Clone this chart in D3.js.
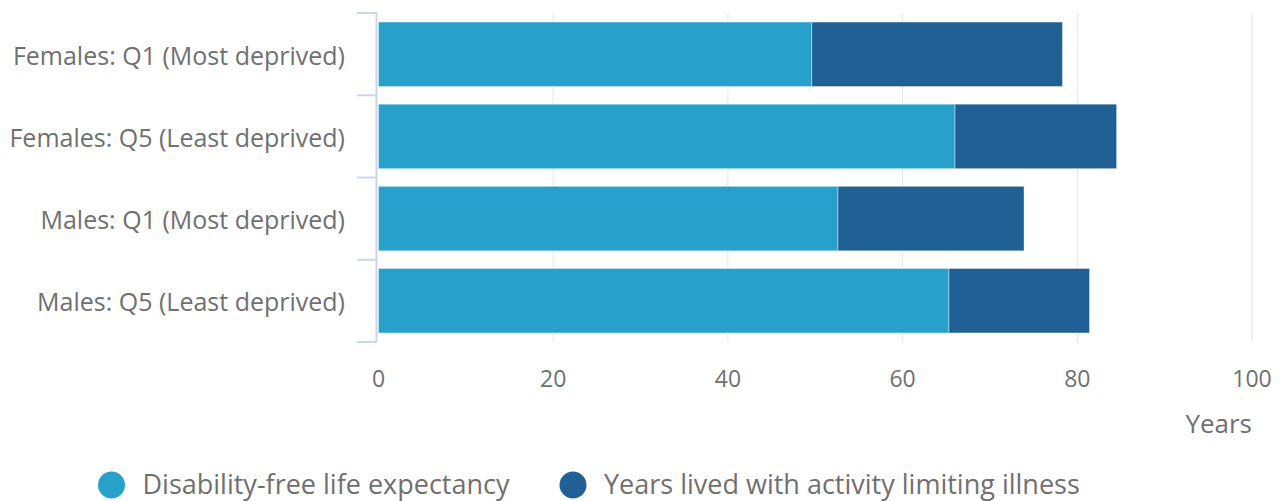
<!DOCTYPE html>
<html>
<head>
<meta charset="utf-8">
<script src="https://cdn.jsdelivr.net/npm/d3@7"></script>
<style>
  body { margin: 0; background: #fff; }
  text { font-family: "Open Sans", sans-serif; fill: #707070; }
</style>
</head>
<body>
<script>
  var categories = ["Females: Q1 (Most deprived)", "Females: Q5 (Least deprived)", "Males: Q1 (Most deprived)", "Males: Q5 (Least deprived)"];
  var seriesNames = ["Disability-free life expectancy", "Years lived with activity limiting illness"];
  var dfle = [49.6, 66.0, 52.6, 65.3];
  var illness = [28.7, 18.5, 21.3, 16.1];
  var xTicks = [0, 20, 40, 60, 80, 100];
  var colors = ["#27a0cc", "#206095"];

  var w = 1282, h = 501;
  var plotLeft = 378.5, plotRight = 1252, plotTop = 13, plotBottom = 342;

  var svg = d3.select("body").append("svg").attr("width", w).attr("height", h);

  var x = d3.scaleLinear().domain([0, 100]).range([plotLeft, plotRight]);
  var y = d3.scaleBand().domain(categories).range([plotTop, plotBottom]).paddingInner(0.215).paddingOuter(0.11);

  // gridlines
  svg.selectAll("line.grid").data(xTicks.slice(1)).enter().append("line")
    .attr("x1", d => x(d)).attr("x2", d => x(d))
    .attr("y1", plotTop).attr("y2", plotBottom)
    .attr("stroke", "#e6e6e6").attr("stroke-width", 1);

  var rows = categories.map((c, i) => ({ cat: c, vals: [dfle[i], illness[i]] }));
  var stack = [];
  rows.forEach(r => {
    var x0 = 0;
    r.vals.forEach((v, j) => { stack.push({ cat: r.cat, s: j, x0: x0, x1: x0 + v }); x0 += v; });
  });

  svg.selectAll("rect.bar").data(stack).enter().append("rect")
    .attr("x", d => x(d.x0))
    .attr("width", d => x(d.x1) - x(d.x0))
    .attr("y", d => y(d.cat))
    .attr("height", y.bandwidth())
    .attr("fill", d => colors[d.s])
    .attr("stroke", "#ffffff").attr("stroke-opacity", 0.4).attr("stroke-width", 1);

  // y axis line + ticks
  svg.append("line").attr("x1", 376.5).attr("x2", 376.5).attr("y1", plotTop).attr("y2", plotBottom)
    .attr("stroke", "#ccd6eb").attr("stroke-width", 2);
  var step = (plotBottom - plotTop) / categories.length;
  var yt = d3.range(categories.length + 1).map(i => plotTop + i * step);
  svg.selectAll("line.yt").data(yt).enter().append("line")
    .attr("x1", 357).attr("x2", 377).attr("y1", d => d).attr("y2", d => d)
    .attr("stroke", "#ccd6eb").attr("stroke-width", 2);

  svg.selectAll("text.cat").data(categories).enter().append("text")
    .attr("x", 345).attr("y", d => y(d) + y.bandwidth() / 2 + 2)
    .attr("dy", "0.35em").attr("text-anchor", "end")
    .style("font-size", "25px").text(d => d);

  svg.selectAll("text.xt").data(xTicks).enter().append("text")
    .attr("x", d => x(d)).attr("y", 387)
    .attr("text-anchor", "middle").style("font-size", "23px").text(d => d);

  svg.append("text").attr("x", 1252).attr("y", 433).attr("text-anchor", "end")
    .style("font-size", "26px").text("Years");

  // legend
  var lx = [111.5, 573];
  var lg = svg.selectAll("g.leg").data(seriesNames).enter().append("g")
    .attr("transform", (d, i) => "translate(" + lx[i] + ",485)");
  lg.append("circle").attr("r", 13.5).attr("fill", (d, i) => colors[i]);
  lg.append("text").attr("x", 31).attr("dy", "0.35em").style("font-size", "27px").text(d => d);
</script>
</body>
</html>
